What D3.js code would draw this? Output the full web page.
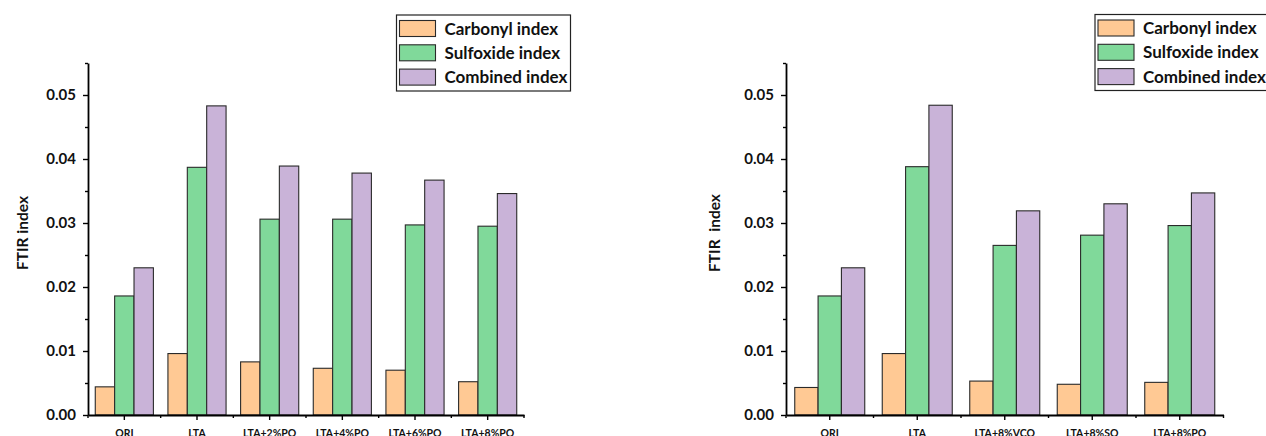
<!DOCTYPE html>
<html>
<head>
<meta charset="utf-8">
<script src="https://cdn.jsdelivr.net/npm/d3@7"></script>
<style>
  html, body { margin: 0; padding: 0; background: #fff; }
  svg { display: block; }
  text { font-family: Lato, "Open Sans", sans-serif; font-weight: bold; fill: #111; }
</style>
</head>
<body>
<svg id="chart" width="1266" height="436"></svg>
<script>
// Series names
const seriesNames = ["Carbonyl index", "Sulfoxide index", "Combined index"];
const seriesColors = ["#FFC994", "#80D99A", "#C9B3D8"];

// Panel (a): oil content series
const leftCategories = ["ORI", "LTA", "LTA+2%PO", "LTA+4%PO", "LTA+6%PO", "LTA+8%PO"];
const leftCarbonyl  = [0.0044, 0.0096, 0.0083, 0.0073, 0.0070, 0.0052];
const leftSulfoxide = [0.0186, 0.0387, 0.0306, 0.0306, 0.0297, 0.0295];
const leftCombined  = [0.0230, 0.0483, 0.0389, 0.0378, 0.0367, 0.0346];

// Panel (b): oil type series
const rightCategories = ["ORI", "LTA", "LTA+8%VCO", "LTA+8%SO", "LTA+8%PO"];
const rightCarbonyl  = [0.0043, 0.0096, 0.0053, 0.0048, 0.0051];
const rightSulfoxide = [0.0186, 0.0388, 0.0265, 0.0281, 0.0296];
const rightCombined  = [0.0230, 0.0484, 0.0319, 0.0330, 0.0347];

// Axis ticks
const yMajorTicks = [0, 0.01, 0.02, 0.03, 0.04, 0.05];
const yMinorTicks = [0.005, 0.015, 0.025, 0.035, 0.045, 0.055];
const yMax = 0.055;

const svg = d3.select("#chart");

function drawPanel(opts) {
  const { x0, x1, yTop, yBottom, categories, series, yTitle, yTitleX, legendX, legendY } = opts;
  const g = svg.append("g");

  const x = d3.scaleBand().domain(categories).range([x0, x1]).padding(0);
  const inner = d3.scaleBand().domain(d3.range(series.length))
    .range([x.bandwidth() * 0.1, x.bandwidth() * 0.9]).padding(0);
  const y = d3.scaleLinear().domain([0, yMax]).range([yBottom, yTop]);

  // Bars
  series.forEach((vals, si) => {
    g.append("g").selectAll("rect")
      .data(categories.map((c, i) => ({ c, v: vals[i] })))
      .join("rect")
      .attr("x", d => x(d.c) + inner(si))
      .attr("y", d => y(d.v))
      .attr("width", inner.bandwidth())
      .attr("height", d => y(0) - y(d.v))
      .attr("fill", seriesColors[si])
      .attr("stroke", "#2a2a2a")
      .attr("stroke-width", 1.1);
  });

  // Y axis: major ticks with labels
  const yAxis = g.append("g")
    .attr("transform", `translate(${x0},0)`)
    .call(d3.axisLeft(y).tickValues(yMajorTicks).tickFormat(d3.format(".2f"))
      .tickSize(5).tickSizeOuter(0).tickPadding(7));
  yAxis.select(".domain").attr("stroke", "#000").attr("stroke-width", 1.8);
  yAxis.selectAll(".tick line").attr("stroke", "#000").attr("stroke-width", 1.4);
  yAxis.selectAll(".tick text").attr("font-size", 15).attr("font-family", "Lato")
    .attr("font-weight", "bold").attr("fill", "#111");

  // Y axis: minor ticks
  const yMinor = g.append("g")
    .attr("transform", `translate(${x0},0)`)
    .call(d3.axisLeft(y).tickValues(yMinorTicks).tickFormat("").tickSize(3).tickSizeOuter(0));
  yMinor.select(".domain").remove();
  yMinor.selectAll(".tick line").attr("stroke", "#000").attr("stroke-width", 1.4);

  // X axis with category labels
  const xAxis = g.append("g")
    .attr("transform", `translate(0,${yBottom})`)
    .call(d3.axisBottom(x).tickSize(5).tickSizeOuter(0).tickPadding(10));
  xAxis.select(".domain").attr("stroke", "#000").attr("stroke-width", 1.8);
  xAxis.selectAll(".tick line").attr("stroke", "#000").attr("stroke-width", 1.4);
  xAxis.selectAll(".tick text").attr("font-size", 10.5).attr("font-family", "Lato")
    .attr("font-weight", "bold").attr("fill", "#111");

  // X axis minor ticks at group boundaries
  const bounds = categories.map(c => x(c)).concat([x1]);
  g.append("g").selectAll("line")
    .data(bounds)
    .join("line")
    .attr("x1", d => d).attr("x2", d => d)
    .attr("y1", yBottom).attr("y2", yBottom + 3)
    .attr("stroke", "#000").attr("stroke-width", 1.4);

  // Y axis title
  g.append("text")
    .attr("transform", `translate(${yTitleX},${(yTop + yBottom) / 2 - 6}) rotate(-90)`)
    .attr("text-anchor", "middle")
    .attr("font-size", 15.5)
    .attr("xml:space", "preserve")
    .style("white-space", "pre")
    .text(yTitle);

  // Legend
  const rowH = 24.3;
  const lg = g.append("g").attr("transform", `translate(${legendX},${legendY})`);
  lg.append("rect")
    .attr("x", 0).attr("y", 0).attr("width", 174).attr("height", 76)
    .attr("fill", "#fff").attr("stroke", "#222").attr("stroke-width", 1.2);
  seriesNames.forEach((name, i) => {
    lg.append("rect")
      .attr("x", 3).attr("y", 5.5 + i * rowH).attr("width", 36).attr("height", 16)
      .attr("fill", seriesColors[i]).attr("stroke", "#2a2a2a").attr("stroke-width", 1.1);
    lg.append("text")
      .attr("x", 48).attr("y", 19.5 + i * rowH)
      .attr("font-size", 17)
      .text(name);
  });
}

drawPanel({
  x0: 88, x1: 524, yTop: 63, yBottom: 415,
  categories: leftCategories,
  series: [leftCarbonyl, leftSulfoxide, leftCombined],
  yTitle: "FTIR index", yTitleX: 28,
  legendX: 396.5, legendY: 15
});

drawPanel({
  x0: 786, x1: 1223.5, yTop: 63, yBottom: 415,
  categories: rightCategories,
  series: [rightCarbonyl, rightSulfoxide, rightCombined],
  yTitle: "FTIR  index", yTitleX: 720,
  legendX: 1095, legendY: 14.5
});
</script>
</body>
</html>
